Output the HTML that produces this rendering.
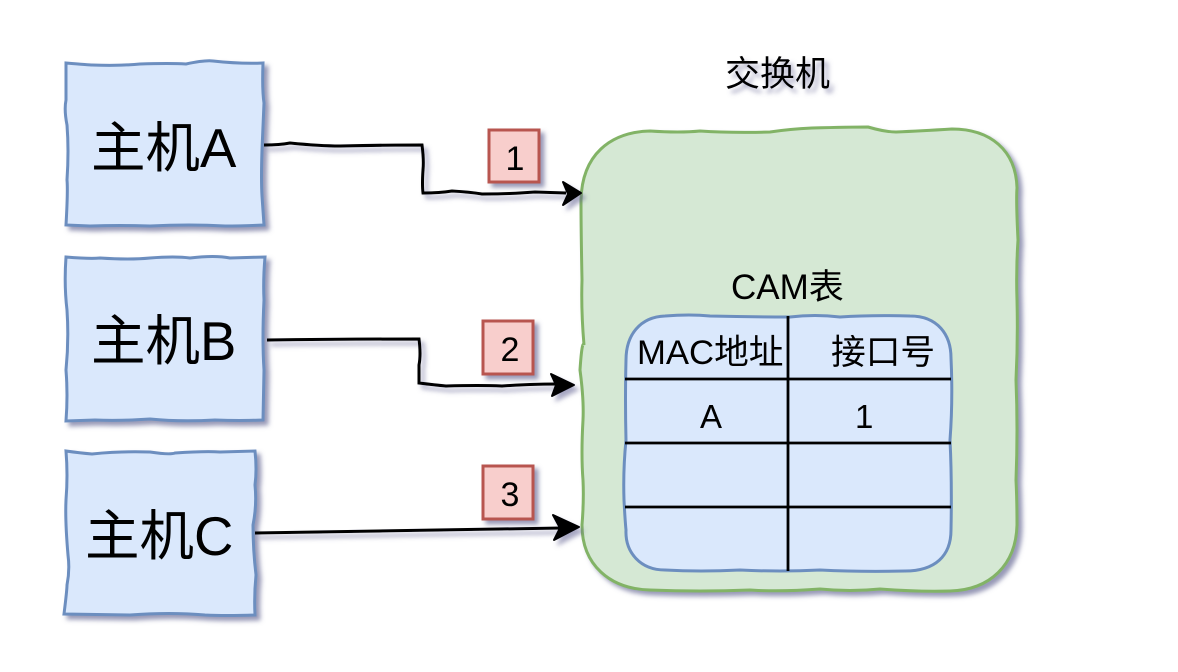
<!DOCTYPE html>
<html>
<head>
<meta charset="utf-8">
<style>
html,body{margin:0;padding:0;background:#fff;width:1178px;height:672px;overflow:hidden}
svg{display:block}
text{font-family:"Liberation Sans","Noto Sans CJK SC",sans-serif;fill:#000}
</style>
</head>
<body>
<svg width="1178" height="672" viewBox="0 0 1178 672" xmlns="http://www.w3.org/2000/svg">
<defs>
<filter id="s" x="-20%" y="-20%" width="140%" height="140%">
<feDropShadow dx="4" dy="4" stdDeviation="2.5" flood-color="#5f6090" flood-opacity="0.65"/>
</filter>
<filter id="sl" x="-10%" y="-60%" width="120%" height="220%" filterUnits="objectBoundingBox">
<feDropShadow dx="4" dy="4.5" stdDeviation="2.5" flood-color="#5f6090" flood-opacity="0.55"/>
</filter>
</defs>

<!-- Hosts -->
<g fill="#dae8fc" stroke="#6c8ebf" stroke-width="3" filter="url(#s)">
<path d="M66 63 Q90 65 92 65 Q120 66 140 64 Q170 63 186 64 Q205 60 213 61 Q240 64 263 63 Q262 90 264 103 L262 150 Q261 180 262 196 L264 225 Q240 226 225 226 Q190 224 150 226 Q120 225 90 226 L66 225 Q68 190 67 180 Q69 150 67 125 Q64 110 66 100 Z"/>
<path d="M66 257 Q90 259 100 258 Q130 260 150 258 Q175 256 190 258 Q215 255 230 258 L265 257 Q263 280 264 300 Q262 340 264 370 L263 420 Q240 421 215 420 Q180 422 150 419 Q120 421 95 420 L66 421 Q68 395 66 370 Q69 340 67 310 Q64 285 66 257 Z"/>
<path d="M66 451 Q80 453 92 454 Q120 451 150 452 Q170 455 175 453 Q205 451 220 452 L255 451 Q257 470 255 485 Q257 505 253 525 Q253 550 256 575 Q254 595 255 615 Q225 616 205 615 Q170 612 130 615 L64 614 Q67 590 67 585 Q70 570 68 555 Q65 520 66 500 Q68 475 66 451 Z"/>
</g>
<g font-size="54.5">
<text x="91" y="167">主机A</text>
<text x="91" y="360">主机B</text>
<text x="85" y="555">主机C</text>
</g>

<!-- Title -->
<text x="725" y="86" font-size="35" fill="#000" filter="url(#sl)">交换机</text>

<!-- Switch -->
<path d="M650 131 Q680 133 700 131 Q730 133 770 132 Q790 129 812 128 Q850 127 868 127 Q885 132 896 132 Q920 131 952 129 C990 129 1016 150 1017 188 Q1016 200 1018 240 Q1016 270 1017 300 Q1018 340 1016 380 Q1018 430 1016 480 Q1017 500 1017 525 C1016 565 990 590 950 591 Q920 592 880 589 Q850 592 820 589 Q780 592 750 590 Q700 592 650 590 C610 589 582 565 582 525 Q584 500 583 480 Q581 455 583 420 Q584 400 580 370 Q582 340 584 345 Q581 310 582 280 Q581 230 581 200 C582 155 610 132 650 131 Z" fill="#d5e8d4" stroke="#82b366" stroke-width="3" filter="url(#s)"/>

<!-- CAM table -->
<text x="731" y="299" font-size="35">CAM表</text>
<path d="M665 316 Q690 314 710 316 Q750 317 790 317 Q815 314 840 317 Q870 315 910 316 C938 316 951 335 951 358 Q953 400 950 440 Q952 480 951 530 C951 556 935 571 905 571 Q860 572 820 570 Q780 572 740 570 Q700 572 665 570 C640 570 625 552 626 530 Q625 520 624 500 Q623 470 626 440 Q625 400 626 360 C626 335 640 317 665 316 Z" fill="#dae8fc" stroke="#6c8ebf" stroke-width="3"/>
<g stroke="#000" stroke-width="2.8" fill="none">
<path d="M788 316 V571"/>
<path d="M625 379 H951"/>
<path d="M625 443 H951"/>
<path d="M625 507 H951"/>
</g>
<g font-size="34.7">
<text x="637" y="364">MAC地址</text>
<text x="831" y="364">接口号</text>
</g>
<text x="700" y="428" font-size="33">A</text>
<text x="855" y="428" font-size="33">1</text>

<!-- Connectors -->
<g filter="url(#sl)">
<path d="M264 145 Q280 145 290 143 Q320 146 340 146 Q380 145 422 145 Q424 160 423 170 Q422 185 423 193 Q440 193 452 191 Q470 192 482 194 Q510 194 535 192 L566 193" fill="none" stroke="#000" stroke-width="3"/>
<path d="M581 193 L563 182 L568 194 L563 205 Z" fill="#000" stroke="#000" stroke-width="2" stroke-linejoin="round"/>
</g>
<g filter="url(#sl)">
<path d="M267 340 Q340 339 419 339 Q421 355 419 365 L419 383 Q435 385 446 386 Q480 385 502 386 Q530 384 558 384" fill="none" stroke="#000" stroke-width="3"/>
<path d="M574 385 L551 374 L556 385 L552 396 Z" fill="#000" stroke="#000" stroke-width="2" stroke-linejoin="round"/>
</g>
<g filter="url(#sl)">
<path d="M255 533 Q400 531 562 528" fill="none" stroke="#000" stroke-width="3"/>
<path d="M579 527 L553 515 L560 528 L554 540 Z" fill="#000" stroke="#000" stroke-width="2" stroke-linejoin="round"/>
</g>

<!-- Badges -->
<g fill="#f8cecc" stroke="#b85450" stroke-width="3" filter="url(#s)">
<rect x="489" y="130" width="50" height="52"/>
<rect x="483" y="321" width="50" height="53"/>
<rect x="483" y="466" width="50" height="53"/>
</g>
<g font-size="34" text-anchor="middle">
<text x="515" y="170">1</text>
<text x="510" y="361">2</text>
<text x="510" y="506">3</text>
</g>
</svg>
</body>
</html>
